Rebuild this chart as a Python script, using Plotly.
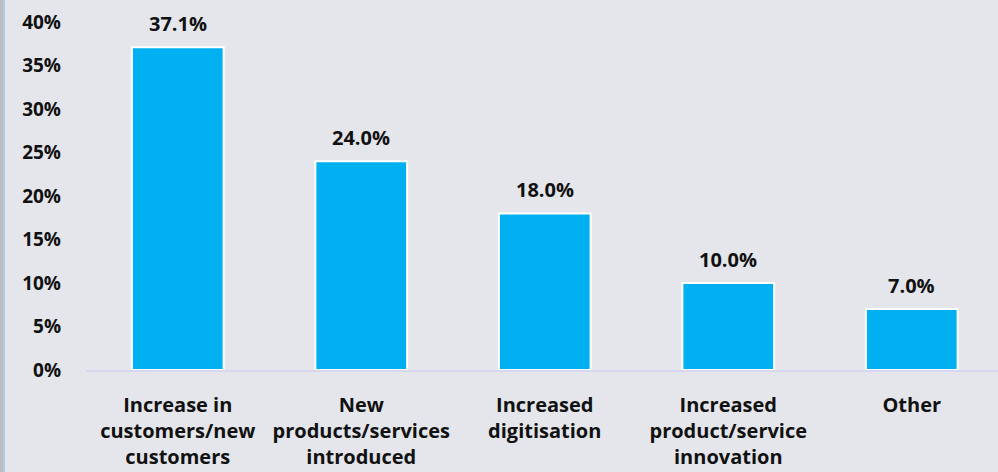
import plotly.graph_objects as go

# Chart data
categories = [
    "Increase in<br>customers/new<br>customers",
    "New<br>products/services<br>introduced",
    "Increased<br>digitisation",
    "Increased<br>product/service<br>innovation",
    "Other",
]
shares = [37.1, 24.0, 18.0, 10.0, 7.0]
y_ticks = [0, 5, 10, 15, 20, 25, 30, 35, 40]

BG = "#E4E6EB"
BAR = "#00B0F0"
FONT = "Open Sans"

fig = go.Figure()
fig.add_trace(go.Bar(
    x=list(range(len(categories))),
    y=shares,
    width=0.5,
    marker=dict(color=BAR, line=dict(color="white", width=2)),
    hoverinfo="skip",
))

# Value labels above each bar
for i, v in enumerate(shares):
    fig.add_annotation(
        x=i, y=v, text=f"{v:.1f}%", showarrow=False,
        yanchor="bottom", yshift=8,
        font=dict(family=FONT, size=20, color="#111111", weight="bold"),
    )

# Frame strip along the left edge
fig.add_shape(type="rect", xref="paper", yref="paper", x0=0, x1=3 / 998,
              y0=-2, y1=2, fillcolor="#BDBDBD", line_width=0, layer="above")
fig.add_shape(type="rect", xref="paper", yref="paper", x0=3 / 998, x1=5 / 998,
              y0=-2, y1=2, fillcolor="#AFC8EE", line_width=0, layer="above")

fig.update_layout(
    width=998, height=472,
    margin=dict(l=0, r=0, t=22, b=102),
    paper_bgcolor=BG, plot_bgcolor=BG,
    showlegend=False,
    bargap=0.5,
    xaxis=dict(
        domain=[86 / 998, 1],
        range=[-0.5, -0.5 + 912 / 183.5],
        tickmode="array",
        tickvals=list(range(len(categories))),
        ticktext=categories,
        showgrid=False, zeroline=False,
        showline=True, linecolor="#D7D8F0", linewidth=2,
        ticks="", ticklabelstandoff=16,
        tickfont=dict(family=FONT, size=20, color="#111111", weight="bold"),
        fixedrange=True,
    ),
    yaxis=dict(
        range=[0, 40],
        tickmode="array",
        tickvals=y_ticks,
        ticktext=[f"{t}%" for t in y_ticks],
        showgrid=False, zeroline=False, showline=False,
        ticks="", ticklabelstandoff=24,
        tickfont=dict(family=FONT, size=19, color="#111111", weight="bold"),
        fixedrange=True,
    ),
)

fig.write_html("out.html", config={"displayModeBar": False})
